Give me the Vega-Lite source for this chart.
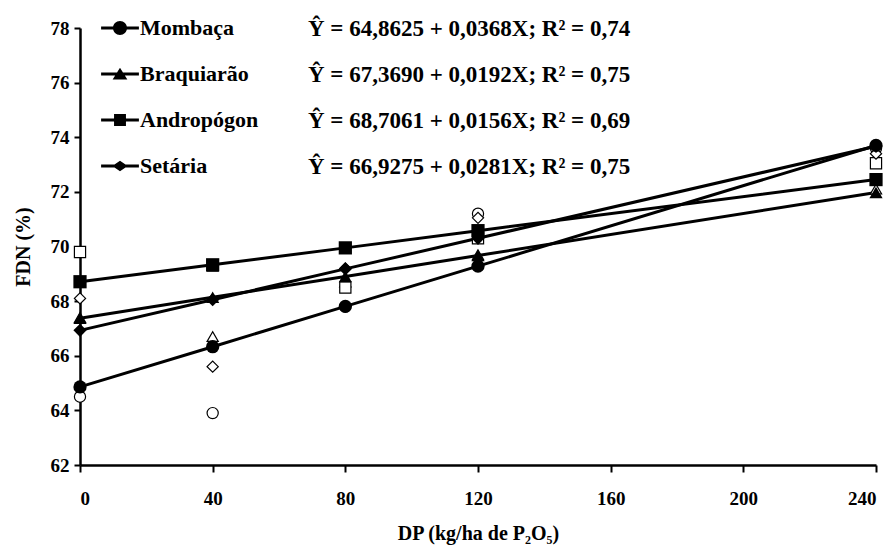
{
  "$schema": "https://vega.github.io/schema/vega-lite/v6.json",
  "width": 796,
  "height": 437,
  "autosize": "none",
  "padding": {"left": 80, "top": 28, "right": 16, "bottom": 81},
  "background": "white",
  "datasets": {
    "fit": [
      {"s": "Mombaça", "eq": "Ŷ = 64,8625 + 0,0368X; R² = 0,74", "x": 0, "y": 64.86},
      {"s": "Mombaça", "eq": "Ŷ = 64,8625 + 0,0368X; R² = 0,74", "x": 40, "y": 66.33},
      {"s": "Mombaça", "eq": "Ŷ = 64,8625 + 0,0368X; R² = 0,74", "x": 80, "y": 67.81},
      {"s": "Mombaça", "eq": "Ŷ = 64,8625 + 0,0368X; R² = 0,74", "x": 120, "y": 69.28},
      {"s": "Mombaça", "eq": "Ŷ = 64,8625 + 0,0368X; R² = 0,74", "x": 240, "y": 73.70},
      {"s": "Braquiarão", "eq": "Ŷ = 67,3690 + 0,0192X; R² = 0,75", "x": 0, "y": 67.37},
      {"s": "Braquiarão", "eq": "Ŷ = 67,3690 + 0,0192X; R² = 0,75", "x": 40, "y": 68.14},
      {"s": "Braquiarão", "eq": "Ŷ = 67,3690 + 0,0192X; R² = 0,75", "x": 80, "y": 68.90},
      {"s": "Braquiarão", "eq": "Ŷ = 67,3690 + 0,0192X; R² = 0,75", "x": 120, "y": 69.67},
      {"s": "Braquiarão", "eq": "Ŷ = 67,3690 + 0,0192X; R² = 0,75", "x": 240, "y": 71.98},
      {"s": "Andropógon", "eq": "Ŷ = 68,7061 + 0,0156X; R² = 0,69", "x": 0, "y": 68.71},
      {"s": "Andropógon", "eq": "Ŷ = 68,7061 + 0,0156X; R² = 0,69", "x": 40, "y": 69.33},
      {"s": "Andropógon", "eq": "Ŷ = 68,7061 + 0,0156X; R² = 0,69", "x": 80, "y": 69.95},
      {"s": "Andropógon", "eq": "Ŷ = 68,7061 + 0,0156X; R² = 0,69", "x": 120, "y": 70.58},
      {"s": "Andropógon", "eq": "Ŷ = 68,7061 + 0,0156X; R² = 0,69", "x": 240, "y": 72.45},
      {"s": "Setária", "eq": "Ŷ = 66,9275 + 0,0281X; R² = 0,75", "x": 0, "y": 66.93},
      {"s": "Setária", "eq": "Ŷ = 66,9275 + 0,0281X; R² = 0,75", "x": 40, "y": 68.05},
      {"s": "Setária", "eq": "Ŷ = 66,9275 + 0,0281X; R² = 0,75", "x": 80, "y": 69.18},
      {"s": "Setária", "eq": "Ŷ = 66,9275 + 0,0281X; R² = 0,75", "x": 120, "y": 70.30},
      {"s": "Setária", "eq": "Ŷ = 66,9275 + 0,0281X; R² = 0,75", "x": 240, "y": 73.67}
    ],
    "obs": [
      {"s": "Mombaça", "x": 0, "y": 64.5},
      {"s": "Mombaça", "x": 40, "y": 63.9},
      {"s": "Mombaça", "x": 80, "y": 67.8},
      {"s": "Mombaça", "x": 120, "y": 71.2},
      {"s": "Mombaça", "x": 240, "y": 73.6},
      {"s": "Braquiarão", "x": 0, "y": 67.4},
      {"s": "Braquiarão", "x": 40, "y": 66.7},
      {"s": "Braquiarão", "x": 80, "y": 68.7},
      {"s": "Braquiarão", "x": 120, "y": 69.7},
      {"s": "Braquiarão", "x": 240, "y": 72.1},
      {"s": "Andropógon", "x": 0, "y": 69.8},
      {"s": "Andropógon", "x": 40, "y": 69.3},
      {"s": "Andropógon", "x": 80, "y": 68.5},
      {"s": "Andropógon", "x": 120, "y": 70.3},
      {"s": "Andropógon", "x": 240, "y": 73.05},
      {"s": "Setária", "x": 0, "y": 68.1},
      {"s": "Setária", "x": 40, "y": 65.6},
      {"s": "Setária", "x": 80, "y": 69.2},
      {"s": "Setária", "x": 120, "y": 71.05},
      {"s": "Setária", "x": 240, "y": 73.4}
    ]
  },
  "encoding": {
    "x": {
      "field": "x", "type": "quantitative",
      "scale": {"domain": [0, 240], "nice": false},
      "axis": {
        "values": [0, 40, 80, 120, 160, 200, 240],
        "title": "DP (kg/ha de P₂O₅)",
        "grid": false,
        "domainColor": "black", "domainWidth": 2.5,
        "tickColor": "black", "tickWidth": 2, "tickSize": 7,
        "labelFont": "Liberation Serif", "labelFontWeight": "bold", "labelFontSize": 19, "labelColor": "black",
        "labelPadding": 17,
        "titleFont": "Liberation Serif", "titleFontWeight": "bold", "titleFontSize": 20, "titleColor": "black",
        "titlePadding": 15
      }
    },
    "y": {
      "field": "y", "type": "quantitative",
      "scale": {"domain": [62, 78], "nice": false, "zero": false},
      "axis": {
        "values": [62, 64, 66, 68, 70, 72, 74, 76, 78],
        "title": "FDN (%)",
        "grid": false,
        "domainColor": "black", "domainWidth": 2.5,
        "tickColor": "black", "tickWidth": 2, "tickSize": 6,
        "labelFont": "Liberation Serif", "labelFontWeight": "bold", "labelFontSize": 19, "labelColor": "black",
        "labelPadding": 5,
        "titleFont": "Liberation Serif", "titleFontWeight": "bold", "titleFontSize": 20, "titleColor": "black",
        "titlePadding": 17
      }
    }
  },
  "layer": [
    {
      "data": {"name": "fit"},
      "mark": {"type": "line", "color": "black", "strokeWidth": 3},
      "encoding": {"detail": {"field": "s"}}
    },
    {
      "data": {"name": "obs"},
      "mark": {"type": "point", "filled": true, "fill": "white", "stroke": "black", "strokeWidth": 1.2, "size": 125, "opacity": 1},
      "encoding": {
        "shape": {
          "field": "s", "type": "nominal",
          "scale": {"domain": ["Mombaça", "Braquiarão", "Andropógon", "Setária"], "range": ["circle", "triangle-up", "square", "diamond"]},
          "legend": null
        }
      }
    },
    {
      "data": {"name": "fit"},
      "mark": {"type": "point", "filled": true, "color": "black", "size": 175, "opacity": 1},
      "encoding": {
        "shape": {
          "field": "s", "type": "nominal",
          "scale": {"domain": ["Mombaça", "Braquiarão", "Andropógon", "Setária"], "range": ["circle", "triangle-up", "square", "diamond"]},
          "legend": null
        }
      }
    },
    {
      "data": {"name": "fit"},
      "transform": [{"filter": "datum.x > 1000"}],
      "mark": {"type": "point", "filled": true},
      "encoding": {
        "shape": {
          "field": "s", "type": "nominal",
          "scale": {
            "domain": ["Mombaça", "Braquiarão", "Andropógon", "Setária"],
            "range": [
              "M-2.7,-0.21H2.7V0.21H-2.7Z M-1,0A1,1 0 1,1 1,0A1,1 0 1,1 -1,0Z",
              "M-2.7,-0.21H2.7V0.21H-2.7Z M0,-0.9L1.05,0.8H-1.05Z",
              "M-2.7,-0.21H2.7V0.21H-2.7Z M-0.85,-0.85H0.85V0.85H-0.85Z",
              "M-2.7,-0.21H2.7V0.21H-2.7Z M0,-0.75L1.1,0L0,0.75L-1.1,0Z"
            ]
          },
          "legend": {
            "title": null,
            "orient": "none",
            "legendX": 29,
            "legendY": -11,
            "padding": 0,
            "symbolSize": 196,
            "symbolFillColor": "black",
            "symbolStrokeColor": "black",
            "symbolStrokeWidth": 0,
            "symbolOpacity": 1,
            "labelOffset": 9,
            "labelFont": "Liberation Serif", "labelFontWeight": "bold", "labelFontSize": 22, "labelColor": "black",
            "rowPadding": 24,
            "labelLimit": 400
          }
        },
        "color": {
          "field": "eq", "type": "nominal",
          "scale": {
            "domain": ["Ŷ = 64,8625 + 0,0368X; R² = 0,74", "Ŷ = 67,3690 + 0,0192X; R² = 0,75", "Ŷ = 68,7061 + 0,0156X; R² = 0,69", "Ŷ = 66,9275 + 0,0281X; R² = 0,75"],
            "range": ["black", "black", "black", "black"]
          },
          "legend": {
            "title": null,
            "orient": "none",
            "legendX": 205,
            "legendY": -11,
            "padding": 0,
            "symbolSize": 1,
            "symbolOpacity": 0,
            "labelOffset": 0,
            "labelFont": "Liberation Serif", "labelFontWeight": "bold", "labelFontSize": 23, "labelColor": "black",
            "rowPadding": 22,
            "labelLimit": 600
          }
        }
      }
    }
  ],
  "resolve": {"scale": {"shape": "independent", "color": "independent"}},
  "config": {"view": {"stroke": null}}
}
